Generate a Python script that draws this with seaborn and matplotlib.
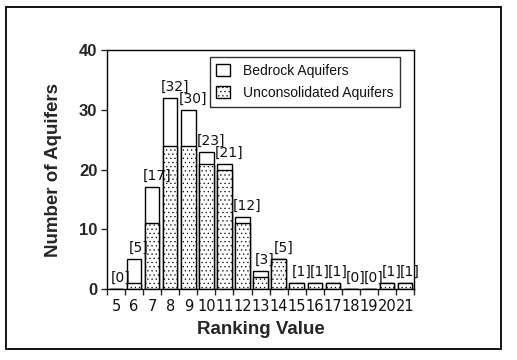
import numpy as np
import seaborn as sns
import matplotlib.pyplot as plt
from matplotlib.patches import Patch, Rectangle

# Ranking values and aquifer counts
ranks = [str(r) for r in range(5, 22)]
total_aquifers = [0, 5, 17, 32, 30, 23, 21, 12, 3, 5, 1, 1, 1, 0, 0, 1, 1]
unconsolidated = [0, 1, 11, 24, 24, 21, 20, 11, 2, 5, 1, 1, 1, 0, 0, 1, 1]
count_labels = ["[%d]" % v for v in total_aquifers]

sns.set_style("ticks")
plt.rcParams['font.family'] = ['Liberation Sans', 'DejaVu Sans']
plt.rcParams['hatch.linewidth'] = 0.4

fig = plt.figure(figsize=(5.17, 3.6), dpi=100)
ax = fig.add_axes([0.207, 0.197, 0.594, 0.664])

# frame around the whole picture
fig.patches.append(Rectangle((6 / 517, 1 - 349 / 360), 495 / 517, 342 / 360,
                             transform=fig.transFigure, fill=False,
                             edgecolor='black', linewidth=1.3))

# bedrock on top: draw totals, then the unconsolidated part over them
sns.barplot(x=ranks, y=total_aquifers, color='white', edgecolor='black',
            linewidth=1, width=0.8, saturation=1, ax=ax)
n_tot = len(ax.patches)
sns.barplot(x=ranks, y=unconsolidated, color='white', edgecolor='black',
            linewidth=1, width=0.8, saturation=1, ax=ax)
for p in ax.patches[n_tot:]:
    p.set_hatch('....')
    p.set_edgecolor('black')

for i, (v, lab) in enumerate(zip(total_aquifers, count_labels)):
    ax.annotate(lab, (i + 0.25, v), xytext=(0, 3), textcoords='offset points',
                ha='center', va='bottom', fontsize=10, color='#111111',
                family='DejaVu Sans')

ax.set_ylim(0, 40)
ax.set_xlim(-0.5, len(ranks) - 0.5)
ax.set_yticks([0, 10, 20, 30, 40])
ax.tick_params(axis='y', labelsize=12, length=4, width=1, direction='out', pad=3)
for t in ax.get_yticklabels():
    t.set_fontweight('bold')
ax.tick_params(axis='x', labelsize=10.5, length=0, pad=7)
for t in ax.get_xticklabels():
    t.set_family('DejaVu Sans')
    t.set_color('#111111')
ax.set_xticks(np.arange(-0.5, len(ranks)), minor=True)
ax.tick_params(axis='x', which='minor', length=4, width=1, direction='out')
for spine in ax.spines.values():
    spine.set_visible(True)
    spine.set_linewidth(1)
    spine.set_color('black')

ax.set_xlabel("Ranking Value", fontsize=13.5, fontweight='bold', labelpad=5)
ax.set_ylabel("Number of Aquifers", fontsize=13.5, fontweight='bold', labelpad=12)

handles = [Patch(facecolor='white', edgecolor='black', label='Bedrock Aquifers'),
           Patch(facecolor='white', edgecolor='black', hatch='....',
                 label='Unconsolidated Aquifers')]
leg = ax.legend(handles=handles, loc='upper right', bbox_to_anchor=(0.955, 0.972),
                fontsize=10, frameon=True, fancybox=False, handlelength=1.0,
                handleheight=1.0, borderpad=0.5, labelspacing=0.6, borderaxespad=0,
                handletextpad=0.9)
leg.get_frame().set_edgecolor('black')
leg.get_frame().set_linewidth(1)
for t in leg.get_texts():
    t.set_color('#111111')

fig.savefig("out.png", dpi=100)
